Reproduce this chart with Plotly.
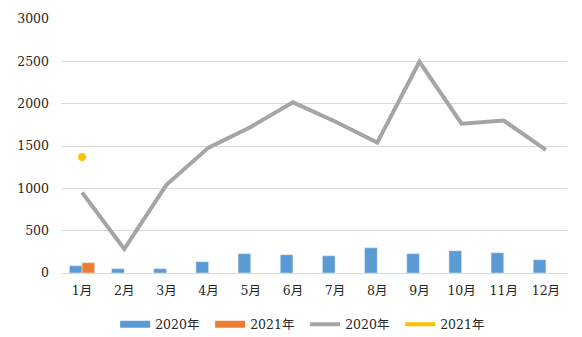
import plotly.graph_objects as go

# Monthly figures
months = ["1月", "2月", "3月", "4月", "5月", "6月", "7月", "8月", "9月", "10月", "11月", "12月"]
bars_2020 = [86, 51, 51, 133, 228, 216, 204, 298, 228, 263, 239, 157]
bars_2021 = [121, None, None, None, None, None, None, None, None, None, None, None]
line_2020 = [950, 283, 1041, 1481, 1725, 2016, 1790, 1540, 2495, 1764, 1800, 1454]
line_2021 = [1371, None, None, None, None, None, None, None, None, None, None, None]
y_ticks = [0, 500, 1000, 1500, 2000, 2500, 3000]

BLUE = "#5B9BD5"
ORANGE = "#ED7D31"
GREY = "#A5A5A5"
YELLOW = "#FFC000"
TEXT = "#262626"
FONT = "DejaVu Serif, Noto Sans CJK SC, serif"

fig = go.Figure()

fig.add_trace(go.Bar(x=months, y=bars_2020, name="2020年", marker_color=BLUE,
                     showlegend=False))
fig.add_trace(go.Bar(x=months, y=bars_2021, name="2021年", marker_color=ORANGE,
                     showlegend=False))
fig.add_trace(go.Scatter(x=months, y=line_2020, name="2020年", mode="lines",
                         line=dict(color=GREY, width=4), showlegend=False))
fig.add_trace(go.Scatter(x=months, y=line_2021, name="2021年", mode="markers",
                         marker=dict(color=YELLOW, size=8), showlegend=False))

# Legend entries drawn as wide strokes, Excel style
for name, color, w in [("2020年", BLUE, 7), ("2021年", ORANGE, 7),
                       ("2020年", GREY, 4), ("2021年", YELLOW, 4)]:
    fig.add_trace(go.Scatter(x=[months[0]], y=[None], mode="lines", name=name,
                             line=dict(color=color, width=w), showlegend=True))

fig.update_layout(
    width=582, height=337,
    margin=dict(l=61, r=15, t=19, b=64, autoexpand=False),
    paper_bgcolor="white", plot_bgcolor="white",
    barmode="group", bargap=0.4, bargroupgap=0,
    font=dict(family=FONT, size=12.5, color=TEXT),
    legend=dict(orientation="h", x=0.107, xanchor="left", y=-0.203, yanchor="middle",
                font=dict(family=FONT, size=12.5, color=TEXT),
                itemwidth=30, entrywidth=50, tracegroupgap=0),
)
fig.update_xaxes(range=[-0.5, 11.5], showgrid=False, showline=True, linecolor="#D9D9D9",
                 linewidth=1, ticks="", ticklabelstandoff=6)
fig.update_yaxes(range=[0, 3000], tickvals=y_ticks, showgrid=True, gridcolor="#D9D9D9",
                 gridwidth=1, zeroline=False, showline=False, ticks="",
                 ticklabelstandoff=11)

fig.write_html("out.html")
